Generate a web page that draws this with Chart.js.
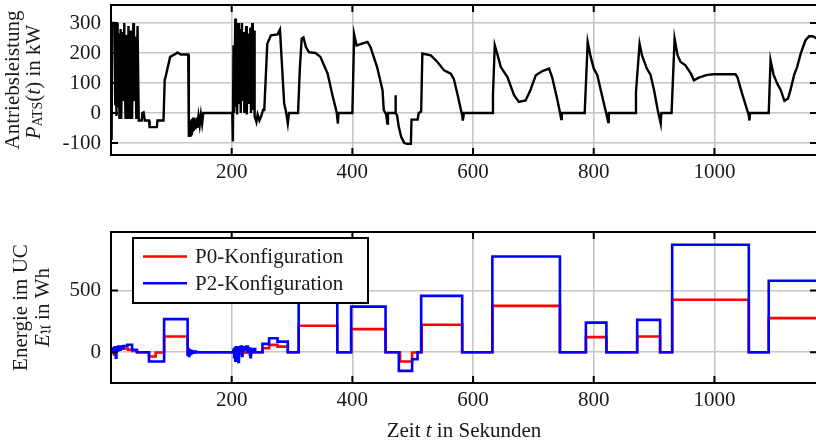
<!DOCTYPE html>
<html><head><meta charset="utf-8">
<script src="https://cdn.jsdelivr.net/npm/chart.js@4/dist/chart.umd.min.js"></script>
<style>
html,body{margin:0;padding:0;background:#fff;overflow:hidden;width:816px;height:440px;}
canvas{position:absolute;left:0;}
#c1{top:0;}
#c2{top:220px;}
</style></head><body>
<canvas id="c1" width="818" height="200"></canvas>
<canvas id="c2" width="818" height="220"></canvas>
<script>
// ---------- data ----------
const powerTimes = [0,1,2,6,7,8,9,10,11,13,14,16,17,19,21,22,24,26,27,29,31,33,35,37,38,40,42,44,46,51,52,54,56,63,64,76,77,87,89,91,98,108,110,116,128,129,130,131,132,133,134,135,136,137,139,140,142,143,145,147,149,151,153,200,201,202,203,204,206,207,208,209,211,212,214,215,217,218,220,221,224,225,227,228,231,232,234,235,237,238,241,243,246,249,252,254,259,265,276,280,287,290,293,295,310,313,316,319,323,328,339,347,359,367,374,376,377,400,403,407,409,417,425,430,441,450,452,456,458,459,471,471.5,472,474,477,481,486,491,497,498,508,510,514,516,530,541,552,563,568,574,582,583,585,632,633,636,640,646,657,668,676,687,695,704,715,726,731,740,745,746,747,785,790,795,800,806,811,820,824,825,869,870,876,880,888,894,900,906,911,912,929,934,939,944,952,961,966,974,988,999,1035,1038,1046,1057,1058,1059,1090,1093,1098,1104,1110,1116,1122,1126,1132,1137,1143,1151,1157,1163,1170];
const powerValues = [-30,-90,300,300,30,270,-10,300,20,265,-20,280,-20,270,40,300,-20,260,-20,290,-20,275,-20,300,40,255,-20,290,-25,-25,0,2,-25,-25,-47,-47,-25,-25,110,125,187,198,202,195,195,-80,-30,-75,-25,-70,-20,-65,-15,-60,-20,-55,-15,-50,-10,-40,-5,-35,0,0,0,-95,226,0,315,20,250,-5,300,30,280,0,300,40,270,0,290,-5,265,30,285,0,300,10,275,-10,-30,-5,-25,-10,10,10,231,259,262,278,31,5,-35,0,0,150,248,252,220,203,200,187,131,59,3,-35,0,0,262,225,226,232,237,220,153,76,10,-5,-35,0,0,59,0,-8,-47,-80,-100,-103,-103,-22,-22,0,5,198,192,170,142,131,114,64,-8,-25,0,0,60,226,198,153,120,59,37,42,76,126,140,148,120,42,-8,-20,0,0,237,187,148,126,82,5,-30,0,0,70,231,192,148,128,76,10,-35,0,0,248,192,170,159,131,109,118,127,129,129,120,64,-8,-25,0,0,176,128,98,76,40,48,76,126,153,198,243,256,256,248];

const p0Times  = [0,3,5,6,9,14,20,28,35,43,63,74,88,127,129,131,134,203,205,207,209,211,214,216,219,222,226,230,232,236,251,262,276,293,311,375,398,455,479,499,508,515,582,632,744,787,821,872,910,930,1057,1090,1170];
const p0Values = [0,15,-20,20,25,30,30,20,10,0,-35,-3,127,-10,10,-5,0,10,-25,20,-40,15,-10,20,-5,15,0,-20,10,0,32,59,45,0,214,0,187,0,-76,-3,0,222,0,376,0,122,0,127,0,425,0,276,276];

const p2Times  = [0,2,4,6,8,9,11,12,14,16,18,20,27,35,43,63,88,127,128,129,130,131,133,135,138,141,203,204,205,206,207,209,210,211,212,214,215,217,218,222,224,227,229,231,232,234,236,239,251,262,276,293,311,375,398,455,477,499,508,514,582,632,744,787,821,872,910,930,1057,1090,1170];
const p2Values = [5,30,0,40,-45,40,15,45,20,45,30,50,60,20,0,-76,268,-20,25,-30,15,-15,10,-5,5,0,20,-40,30,-70,40,0,30,-80,40,10,45,-30,40,20,45,0,30,-40,20,0,25,0,67,113,86,0,435,0,370,0,-152,-57,0,457,0,776,0,240,0,262,0,871,0,579,579];

const xTicks = [200,400,600,800,1000];
const powerTicks = [-100,0,100,200,300];
const energyTicks = [0,500];
const seriesLabels = ['P0-Konfiguration','P2-Konfiguration'];

// ---------- helpers ----------
const FONT = '"Liberation Serif", "Times New Roman", serif';
const FS = 21;
const toXY = (t, v) => t.map((x, i) => ({x, y: v[i]}));

function drawRich(ctx, segs, x, y, rotate) {
  ctx.save();
  ctx.translate(x, y);
  if (rotate) ctx.rotate(-Math.PI / 2);
  let total = 0;
  segs.forEach(s => { ctx.font = s.f; s.w = ctx.measureText(s.t).width; total += s.w; });
  let cx = -total / 2;
  ctx.textBaseline = 'middle';
  ctx.textAlign = 'left';
  ctx.fillStyle = '#1a1a1a';
  segs.forEach(s => { ctx.font = s.f; ctx.fillText(s.t, cx, s.dy || 0); cx += s.w; });
  ctx.restore();
}
const R = FS + 'px ' + FONT, I = 'italic ' + FS + 'px ' + FONT, S = '14px ' + FONT;

const framePlugin = {
  id: 'frame',
  afterDatasetsDraw(chart) {
    const {ctx, chartArea: a, scales} = chart;
    ctx.save();
    ctx.strokeStyle = '#000';
    ctx.lineWidth = 2;
    ctx.lineCap = 'butt';
    ctx.beginPath();
    const L = 7;
    scales.x.ticks.forEach(t => {
      const p = scales.x.getPixelForValue(t.value);
      ctx.moveTo(p, a.top); ctx.lineTo(p, a.top + L);
      ctx.moveTo(p, a.bottom); ctx.lineTo(p, a.bottom - L);
    });
    scales.y.ticks.forEach(t => {
      const p = scales.y.getPixelForValue(t.value);
      ctx.moveTo(a.left, p); ctx.lineTo(a.left + L, p);
      ctx.moveTo(a.right, p); ctx.lineTo(a.right - L, p);
    });
    ctx.stroke();
    ctx.strokeRect(a.left, a.top, a.right - a.left, a.bottom - a.top);
    ctx.restore();
  }
};

function baseScales(yMin, yMax, yTicks, xHeight, xPad) {
  return {
    x: {
      type: 'linear', min: 0, max: 1170,
      afterBuildTicks: s => { s.ticks = xTicks.map(v => ({value: v})); },
      afterFit: s => { s.height = xHeight; s.paddingLeft = 0; s.paddingRight = 0; },
      grid: {color: '#c6c6c6', lineWidth: 1.6, drawTicks: false},
      border: {display: false},
      ticks: {color: '#1a1a1a', font: {family: FONT, size: FS}, padding: xPad, maxRotation: 0, autoSkip: false,
              callback: v => String(v)}
    },
    y: {
      type: 'linear', min: yMin, max: yMax,
      afterBuildTicks: s => { s.ticks = yTicks.map(v => ({value: v})); },
      afterFit: s => { s.width = 111; s.paddingTop = 0; s.paddingBottom = 0; },
      grid: {color: '#c6c6c6', lineWidth: 1.6, drawTicks: false},
      border: {display: false},
      ticks: {color: '#1a1a1a', font: {family: FONT, size: FS}, padding: 10, callback: v => String(v)}
    }
  };
}

// ---------- top chart ----------
new Chart(document.getElementById('c1'), {
  type: 'line',
  data: {datasets: [{
    label: 'P_ATS',
    data: toXY(powerTimes, powerValues),
    borderColor: '#000', borderWidth: 2.4, pointRadius: 0, tension: 0, fill: false
  }]},
  options: {
    responsive: false, animation: false, devicePixelRatio: 1,
    layout: {padding: {top: 5, right: 1, left: 0, bottom: 0}},
    plugins: {legend: {display: false}, tooltip: {enabled: false}},
    scales: baseScales(-140, 360, powerTicks, 45, 5)
  },
  plugins: [framePlugin, {
    id: 'titles1',
    afterDraw(chart) {
      const a = chart.chartArea, ctx = chart.ctx, cy = (a.top + a.bottom) / 2;
      drawRich(ctx, [{t: 'Antriebsleistung', f: R}], 13, cy, true);
      drawRich(ctx, [{t: 'P', f: I}, {t: 'ATS', f: S, dy: 4}, {t: '(', f: R}, {t: 't', f: I}, {t: ') in kW', f: R}], 34, cy + 2, true);
    }
  }]
});

// ---------- bottom chart ----------
new Chart(document.getElementById('c2'), {
  type: 'line',
  data: {datasets: [
    {label: seriesLabels[1], data: toXY(p2Times, p2Values), borderColor: '#0000ff', borderWidth: 2.6,
     pointRadius: 0, stepped: 'before', fill: false},
    {label: seriesLabels[0], data: toXY(p0Times, p0Values), borderColor: '#ff0000', borderWidth: 2.6,
     pointRadius: 0, stepped: 'before', fill: false}
  ]},
  options: {
    responsive: false, animation: false, devicePixelRatio: 1,
    layout: {padding: {top: 12, right: 1, left: 0, bottom: 0}},
    plugins: {legend: {display: false}, tooltip: {enabled: false}},
    scales: baseScales(-250, 975, energyTicks, 57, 5)
  },
  plugins: [framePlugin, {
    id: 'legendAndTitles',
    afterDraw(chart) {
      const a = chart.chartArea, ctx = chart.ctx, cy = (a.top + a.bottom) / 2;
      // legend box
      const bx = a.left + 22, by = a.top + 6, bw = 235, bh = 65;
      ctx.save();
      ctx.fillStyle = '#fff';
      ctx.fillRect(bx, by, bw, bh);
      ctx.strokeStyle = '#000'; ctx.lineWidth = 2;
      ctx.strokeRect(bx, by, bw, bh);
      const entries = [chart.data.datasets[1], chart.data.datasets[0]];
      entries.forEach((ds, i) => {
        const ly = by + 18.5 + i * 26.7;
        ctx.strokeStyle = ds.borderColor; ctx.lineWidth = 2.6;
        ctx.beginPath(); ctx.moveTo(bx + 10, ly); ctx.lineTo(bx + 54, ly); ctx.stroke();
        ctx.fillStyle = '#1a1a1a'; ctx.font = R; ctx.textBaseline = 'middle'; ctx.textAlign = 'left';
        ctx.fillText(ds.label, bx + 62, ly + 1);
      });
      ctx.restore();
      // axis titles
      drawRich(ctx, [{t: 'Energie im UC', f: R}], 21, cy, true);
      drawRich(ctx, [{t: 'E', f: I}, {t: '\u{1D518}', f: S, dy: 4}, {t: ' in Wh', f: R}], 43, cy, true);
      drawRich(ctx, [{t: 'Zeit ', f: R}, {t: 't', f: I}, {t: ' in Sekunden', f: R}], (a.left + a.right) / 2, 211, false);
    }
  }]
});
</script>
</body></html>
